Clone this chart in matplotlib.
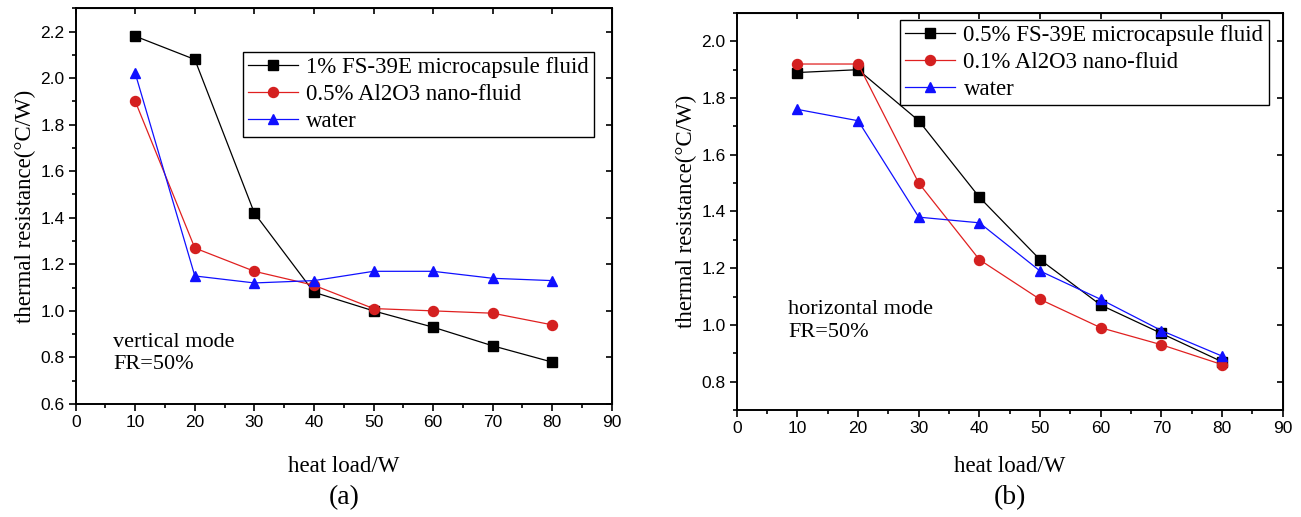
import matplotlib
matplotlib.use("Agg")
from matplotlib import pyplot as plt
from matplotlib.ticker import MultipleLocator

# heat load (W)
load = [10, 20, 30, 40, 50, 60, 70, 80]

# (a) vertical mode
a_fs = [2.18, 2.08, 1.42, 1.08, 1.00, 0.93, 0.85, 0.78]
a_al = [1.90, 1.27, 1.17, 1.11, 1.01, 1.00, 0.99, 0.94]
a_water = [2.02, 1.15, 1.12, 1.13, 1.17, 1.17, 1.14, 1.13]
a_names = ["1% FS-39E microcapsule fluid", "0.5% Al2O3 nano-fluid", "water"]

# (b) horizontal mode
b_fs = [1.89, 1.90, 1.72, 1.45, 1.23, 1.07, 0.97, 0.87]
b_al = [1.92, 1.92, 1.50, 1.23, 1.09, 0.99, 0.93, 0.86]
b_water = [1.76, 1.72, 1.38, 1.36, 1.19, 1.09, 0.98, 0.89]
b_names = ["0.5% FS-39E microcapsule fluid", "0.1% Al2O3 nano-fluid", "water"]

serif = "Liberation Serif"
sans = "Liberation Sans"

fig = plt.figure(figsize=(13.01, 5.17), dpi=100)
ax1 = fig.add_axes([0.0582, 0.2186, 0.4120, 0.7654])
ax2 = fig.add_axes([0.5663, 0.2070, 0.4197, 0.7679])

marks = ["s", "o", "^"]
face_cols = ["black", "#d42020", "#1010ff"]
line_cols = ["black", "#e02020", "#1010ff"]


def panel(ax, series, names, ylim, mode_xy, leg_box, xlab_y):
    for ys, name, m, fc, lc in zip(series, names, marks, face_cols, line_cols):
        ax.plot(load, ys, color=lc, lw=0.9, marker=m, ms=7.2,
                mfc=fc, mec=fc, label=name)
    ax.set_xlim(0, 90)
    ax.set_ylim(*ylim)
    ax.xaxis.set_major_locator(MultipleLocator(10))
    ax.xaxis.set_minor_locator(MultipleLocator(5))
    ax.yaxis.set_major_locator(MultipleLocator(0.2))
    ax.yaxis.set_minor_locator(MultipleLocator(0.1))
    ax.tick_params(which="both", direction="out", top=False, right=False)
    ax.tick_params(which="major", length=5, width=1.2, labelsize=12.5, pad=3)
    ax.tick_params(which="minor", length=3, width=1.2)
    # inward ticks on the top and right frame
    ax.secondary_xaxis("top").tick_params(which="both", direction="in",
                                          labeltop=False, length=4, width=1.2)
    sec = ax.secondary_yaxis("right")
    sec.tick_params(direction="in", labelright=False, length=4, width=1.2)
    sec.yaxis.set_minor_locator(MultipleLocator(0.1))
    sec.tick_params(which="minor", length=0)
    for lab in ax.get_xticklabels() + ax.get_yticklabels():
        lab.set_fontfamily(sans)
    for s in ax.spines.values():
        s.set_linewidth(1.4)
    ax.set_xlabel("heat load/W", fontfamily=serif, fontsize=16.5)
    ax.xaxis.set_label_coords(0.5, xlab_y)
    ax.set_ylabel("thermal resistance(\u00b0C/W)", fontfamily=serif, fontsize=16.5, labelpad=3)
    ax.text(mode_xy[0], mode_xy[1], mode_xy[2] + "\nFR=50%", transform=ax.transAxes,
            fontfamily=serif, fontsize=16, va="top", linespacing=1.25)
    leg = ax.legend(loc="upper left", bbox_to_anchor=leg_box, frameon=True,
                    fancybox=False, edgecolor="black", framealpha=1,
                    prop={"family": serif, "size": 16.5}, handlelength=2.2,
                    borderpad=0.22, labelspacing=0.26, handletextpad=0.35,
                    borderaxespad=0)
    leg.get_frame().set_linewidth(1.0)


panel(ax1, [a_fs, a_al, a_water], a_names, (0.6, 2.3),
      (0.07, 0.18, "vertical mode"), (0.312, 0.889), -0.131)
panel(ax2, [b_fs, b_al, b_water], b_names, (0.7, 2.1),
      (0.094, 0.277, "horizontal mode"), (0.299, 0.982), -0.116)

fig.text(343.7 / 1301, 1 - 498 / 517, "(a)", ha="center", va="center",
         fontfamily=serif, fontsize=20)
fig.text(1009.7 / 1301, 1 - 498 / 517, "(b)", ha="center", va="center",
         fontfamily=serif, fontsize=20)

fig.savefig("out.png", dpi=100)
